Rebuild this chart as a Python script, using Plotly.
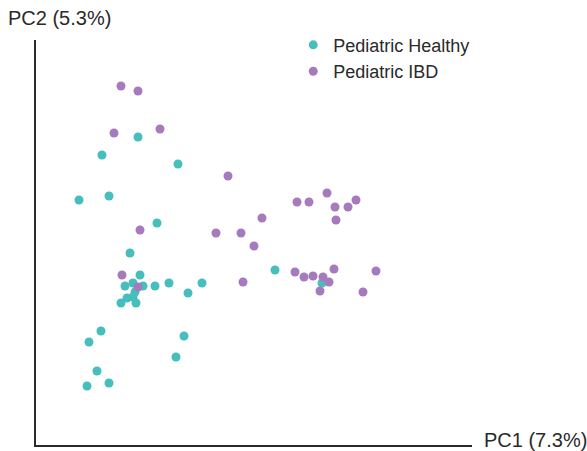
import plotly.graph_objects as go

# PC scores (arbitrary units)
healthy_pc1 = [102, 66, 142, 43, 73, 121, 94, 104, 89, 97, 107, 119, 133, 152, 166,
               99, 91, 85, 100, 97, 239, 286, 65, 53, 148, 140, 61, 51, 73]
healthy_pc2 = [308, 290, 281, 245, 249, 222, 192, 170, 159, 162, 159, 159, 162, 152, 162,
               153, 147, 142, 142, 148, 175, 162, 114, 103, 109, 88, 74, 59, 62]

ibd_pc1 = [85, 102, 78, 124, 192, 261, 273, 291, 299, 312, 320, 300, 226, 104, 180, 205,
           218, 86, 102, 207, 259, 268, 277, 287, 298, 293, 284, 327, 340]
ibd_pc2 = [359, 354, 312, 316, 269, 243, 243, 252, 238, 238, 245, 225, 227, 215, 212, 212,
           199, 170, 158, 163, 173, 168, 169, 168, 176, 163, 154, 153, 174]

legend_names = ["Pediatric Healthy", "Pediatric IBD"]
x_title = "PC1 (7.3%)"
y_title = "PC2 (5.3%)"

TEAL = "#47BEBE"
PURPLE = "#A67BBE"
FONT = "Liberation Sans, Arial, sans-serif"

fig = go.Figure()
fig.add_trace(go.Scatter(x=healthy_pc1, y=healthy_pc2, mode="markers", name=legend_names[0],
                         marker=dict(color=TEAL, size=9, line=dict(width=0))))
fig.add_trace(go.Scatter(x=ibd_pc1, y=ibd_pc2, mode="markers", name=legend_names[1],
                         marker=dict(color=PURPLE, size=9, line=dict(width=0))))

axis_common = dict(showgrid=False, zeroline=False, showticklabels=False, ticks="",
                   showline=True, linecolor="#2a2a2a", linewidth=2)
fig.update_xaxes(range=[0, 436], **axis_common)
fig.update_yaxes(range=[0, 405], **axis_common)

fig.add_annotation(text=x_title, xref="paper", yref="paper", x=1.0, y=0.0,
                   xanchor="left", yanchor="middle", xshift=10, yshift=5, showarrow=False,
                   font=dict(size=20, color="#2a2a2a", family=FONT))
fig.add_annotation(text=y_title, xref="paper", yref="paper", x=0.0, y=1.0,
                   xanchor="left", yanchor="bottom", xshift=-30, yshift=9, showarrow=False,
                   font=dict(size=20, color="#2a2a2a", family=FONT))

fig.update_layout(
    width=587, height=451,
    margin=dict(l=36, r=115, t=40, b=6),
    paper_bgcolor="white", plot_bgcolor="white",
    font=dict(family=FONT, color="#2a2a2a"),
    legend=dict(x=0.59, y=1.033, xanchor="left", yanchor="top",
                font=dict(size=18, color="#2a2a2a", family=FONT),
                bgcolor="rgba(0,0,0,0)", itemwidth=30),
    showlegend=True,
)

fig.write_html("out.html", config={"displayModeBar": False},
               post_script="document.body.style.margin='0';document.body.style.overflow='hidden';")
